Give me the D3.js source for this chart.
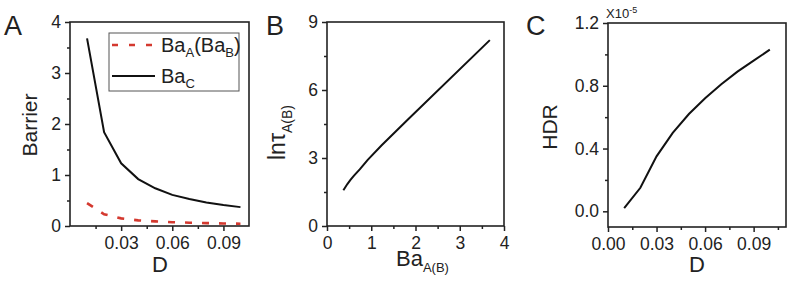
<!DOCTYPE html>
<html>
<head>
<meta charset="utf-8">
<script src="https://cdn.jsdelivr.net/npm/d3@7"></script>
<style>
  body { margin: 0; background: #fff; }
  svg { font-family: "Liberation Sans", Arial, sans-serif; }
  .domain { display: none; }
  .tick line { stroke: #222; stroke-width: 1.5; }
  .tick text { fill: #222; font-size: 17.5px; }
</style>
</head>
<body>
<svg width="791" height="281"></svg>
<script>
const d_values = [0.01, 0.02, 0.03, 0.04, 0.05, 0.06, 0.07, 0.08, 0.09, 0.10];
const ba_c = [3.68, 1.84, 1.23, 0.92, 0.74, 0.61, 0.53, 0.46, 0.41, 0.37];
const ba_a = [0.45, 0.23, 0.15, 0.11, 0.09, 0.075, 0.065, 0.057, 0.05, 0.045];
const ba_ab = [0.37, 0.41, 0.46, 0.53, 0.61, 0.74, 0.92, 1.23, 1.84, 3.68];
const ln_tau = [1.58, 1.70, 1.85, 2.03, 2.22, 2.50, 2.92, 3.55, 4.72, 8.2];
const hdr = [0.02, 0.15, 0.35, 0.50, 0.62, 0.72, 0.81, 0.89, 0.96, 1.03];

const a_x_major = [0.03, 0.06, 0.09], a_x_minor = [0.015, 0.045, 0.075];
const a_y_major = [0, 1, 2, 3, 4], a_y_minor = [0.5, 1.5, 2.5, 3.5];
const b_x_major = [0, 1, 2, 3, 4], b_x_minor = [0.5, 1.5, 2.5, 3.5];
const b_y_major = [0, 3, 6, 9], b_y_minor = [1.5, 4.5, 7.5];
const c_x_major = [0, 0.03, 0.06, 0.09], c_x_minor = [0.015, 0.045, 0.075, 0.105];
const c_y_major = [0, 0.4, 0.8, 1.2], c_y_minor = [0.2, 0.6, 1.0];

const svg = d3.select("svg");

function panel(opt) {
  const g = svg.append("g");
  const x = d3.scaleLinear().domain(opt.xd).range(opt.xr);
  const y = d3.scaleLinear().domain(opt.yd).range(opt.yr);

  g.append("g").attr("transform", `translate(0,${opt.yr[0]})`)
    .call(d3.axisBottom(x).tickValues(opt.xmaj).tickSize(5).tickPadding(6).tickFormat(opt.xf));
  g.append("g").attr("transform", `translate(0,${opt.yr[0]})`)
    .call(d3.axisBottom(x).tickValues(opt.xmin).tickSize(3).tickFormat(""));
  g.append("g").attr("transform", `translate(${opt.xr[0]},0)`)
    .call(d3.axisLeft(y).tickValues(opt.ymaj).tickSize(5).tickPadding(4).tickFormat(opt.yf));
  g.append("g").attr("transform", `translate(${opt.xr[0]},0)`)
    .call(d3.axisLeft(y).tickValues(opt.ymin).tickSize(3).tickFormat(""));

  g.append("rect")
    .attr("x", opt.xr[0]).attr("y", opt.yr[1])
    .attr("width", opt.xr[1] - opt.xr[0]).attr("height", opt.yr[0] - opt.yr[1])
    .attr("fill", "none").attr("stroke", "#222").attr("stroke-width", 1.6);

  g.append("text").attr("x", opt.lx).attr("y", 35)
    .style("font-size", "27px").attr("fill", "#222").text(opt.letter);

  return { g, x, y };
}

function drawLine(p, xs, ys, color, dash) {
  const line = d3.line().x(d => p.x(d[0])).y(d => p.y(d[1]));
  p.g.append("path")
    .attr("d", line(d3.zip(xs, ys)))
    .attr("fill", "none")
    .attr("stroke", color)
    .attr("stroke-width", dash ? 2.6 : 2)
    .attr("stroke-dasharray", dash || null);
}

// A
const pa = panel({
  letter: "A", lx: 4, xd: [0, 0.105], xr: [70, 249], yd: [0, 4], yr: [226, 22],
  xmaj: a_x_major, xmin: a_x_minor, ymaj: a_y_major, ymin: a_y_minor,
  xf: d3.format(".2f"), yf: d3.format("d")
});
drawLine(pa, d_values, ba_c, "#111");
drawLine(pa, d_values, ba_a, "#d4392f", "7,10");

pa.g.append("text").attr("x", 160).attr("y", 272).attr("text-anchor", "middle")
  .style("font-size", "22px").attr("fill", "#222").text("D");
pa.g.append("text").attr("transform", "translate(37,125) rotate(-90)")
  .attr("text-anchor", "middle").style("font-size", "21px").attr("fill", "#222").text("Barrier");

const leg = pa.g.append("g");
leg.append("rect").attr("x", 109).attr("y", 33).attr("width", 130).attr("height", 58)
  .attr("fill", "#fff").attr("stroke", "#555").attr("stroke-width", 1);
leg.append("line").attr("x1", 112).attr("x2", 155).attr("y1", 45).attr("y2", 45)
  .attr("stroke", "#d4392f").attr("stroke-width", 2.6).attr("stroke-dasharray", "6,11");
leg.append("line").attr("x1", 112).attr("x2", 155).attr("y1", 76).attr("y2", 76)
  .attr("stroke", "#111").attr("stroke-width", 2);
const t1 = leg.append("text").attr("x", 161).attr("y", 52).style("font-size", "20px").attr("fill", "#222");
t1.append("tspan").text("Ba");
t1.append("tspan").attr("dy", 5).style("font-size", "13px").text("A");
t1.append("tspan").attr("dy", -5).text("(Ba");
t1.append("tspan").attr("dy", 5).style("font-size", "13px").text("B");
t1.append("tspan").attr("dy", -5).text(")");
const t2 = leg.append("text").attr("x", 161).attr("y", 83).style("font-size", "20px").attr("fill", "#222");
t2.append("tspan").text("Ba");
t2.append("tspan").attr("dy", 5).style("font-size", "13px").text("C");

// B
const pb = panel({
  letter: "B", lx: 266, xd: [0, 4], xr: [327, 504], yd: [0, 9], yr: [226, 22],
  xmaj: b_x_major, xmin: b_x_minor, ymaj: b_y_major, ymin: b_y_minor,
  xf: d3.format("d"), yf: d3.format("d")
});
drawLine(pb, ba_ab, ln_tau, "#111");

const bx = pb.g.append("text").attr("x", 396).attr("y", 266).style("font-size", "22px").attr("fill", "#222");
bx.append("tspan").text("Ba");
bx.append("tspan").attr("dy", 6).style("font-size", "13px").text("A(B)");
const by = pb.g.append("text").attr("transform", "translate(285,160) rotate(-90)")
  .style("font-size", "23px").attr("fill", "#222");
by.append("tspan").text("lnτ");
by.append("tspan").attr("dy", 7).style("font-size", "14px").text("A(B)");

// C
const pc = panel({
  letter: "C", lx: 526, xd: [0, 0.11], xr: [608, 786], yd: [-0.1, 1.2], yr: [227, 23],
  xmaj: c_x_major, xmin: c_x_minor, ymaj: c_y_major, ymin: c_y_minor,
  xf: d3.format(".2f"), yf: d3.format(".1f")
});
drawLine(pc, d_values, hdr, "#111");

pc.g.append("text").attr("x", 697).attr("y", 272).attr("text-anchor", "middle")
  .style("font-size", "22px").attr("fill", "#222").text("D");
pc.g.append("text").attr("transform", "translate(557,127) rotate(-90)")
  .attr("text-anchor", "middle").style("font-size", "21px").attr("fill", "#222").text("HDR");
const sc = pc.g.append("text").attr("x", 606).attr("y", 18).style("font-size", "13px").attr("fill", "#222");
sc.append("tspan").text("X10");
sc.append("tspan").attr("dy", -5).style("font-size", "9px").text("-5");
</script>
</body>
</html>
